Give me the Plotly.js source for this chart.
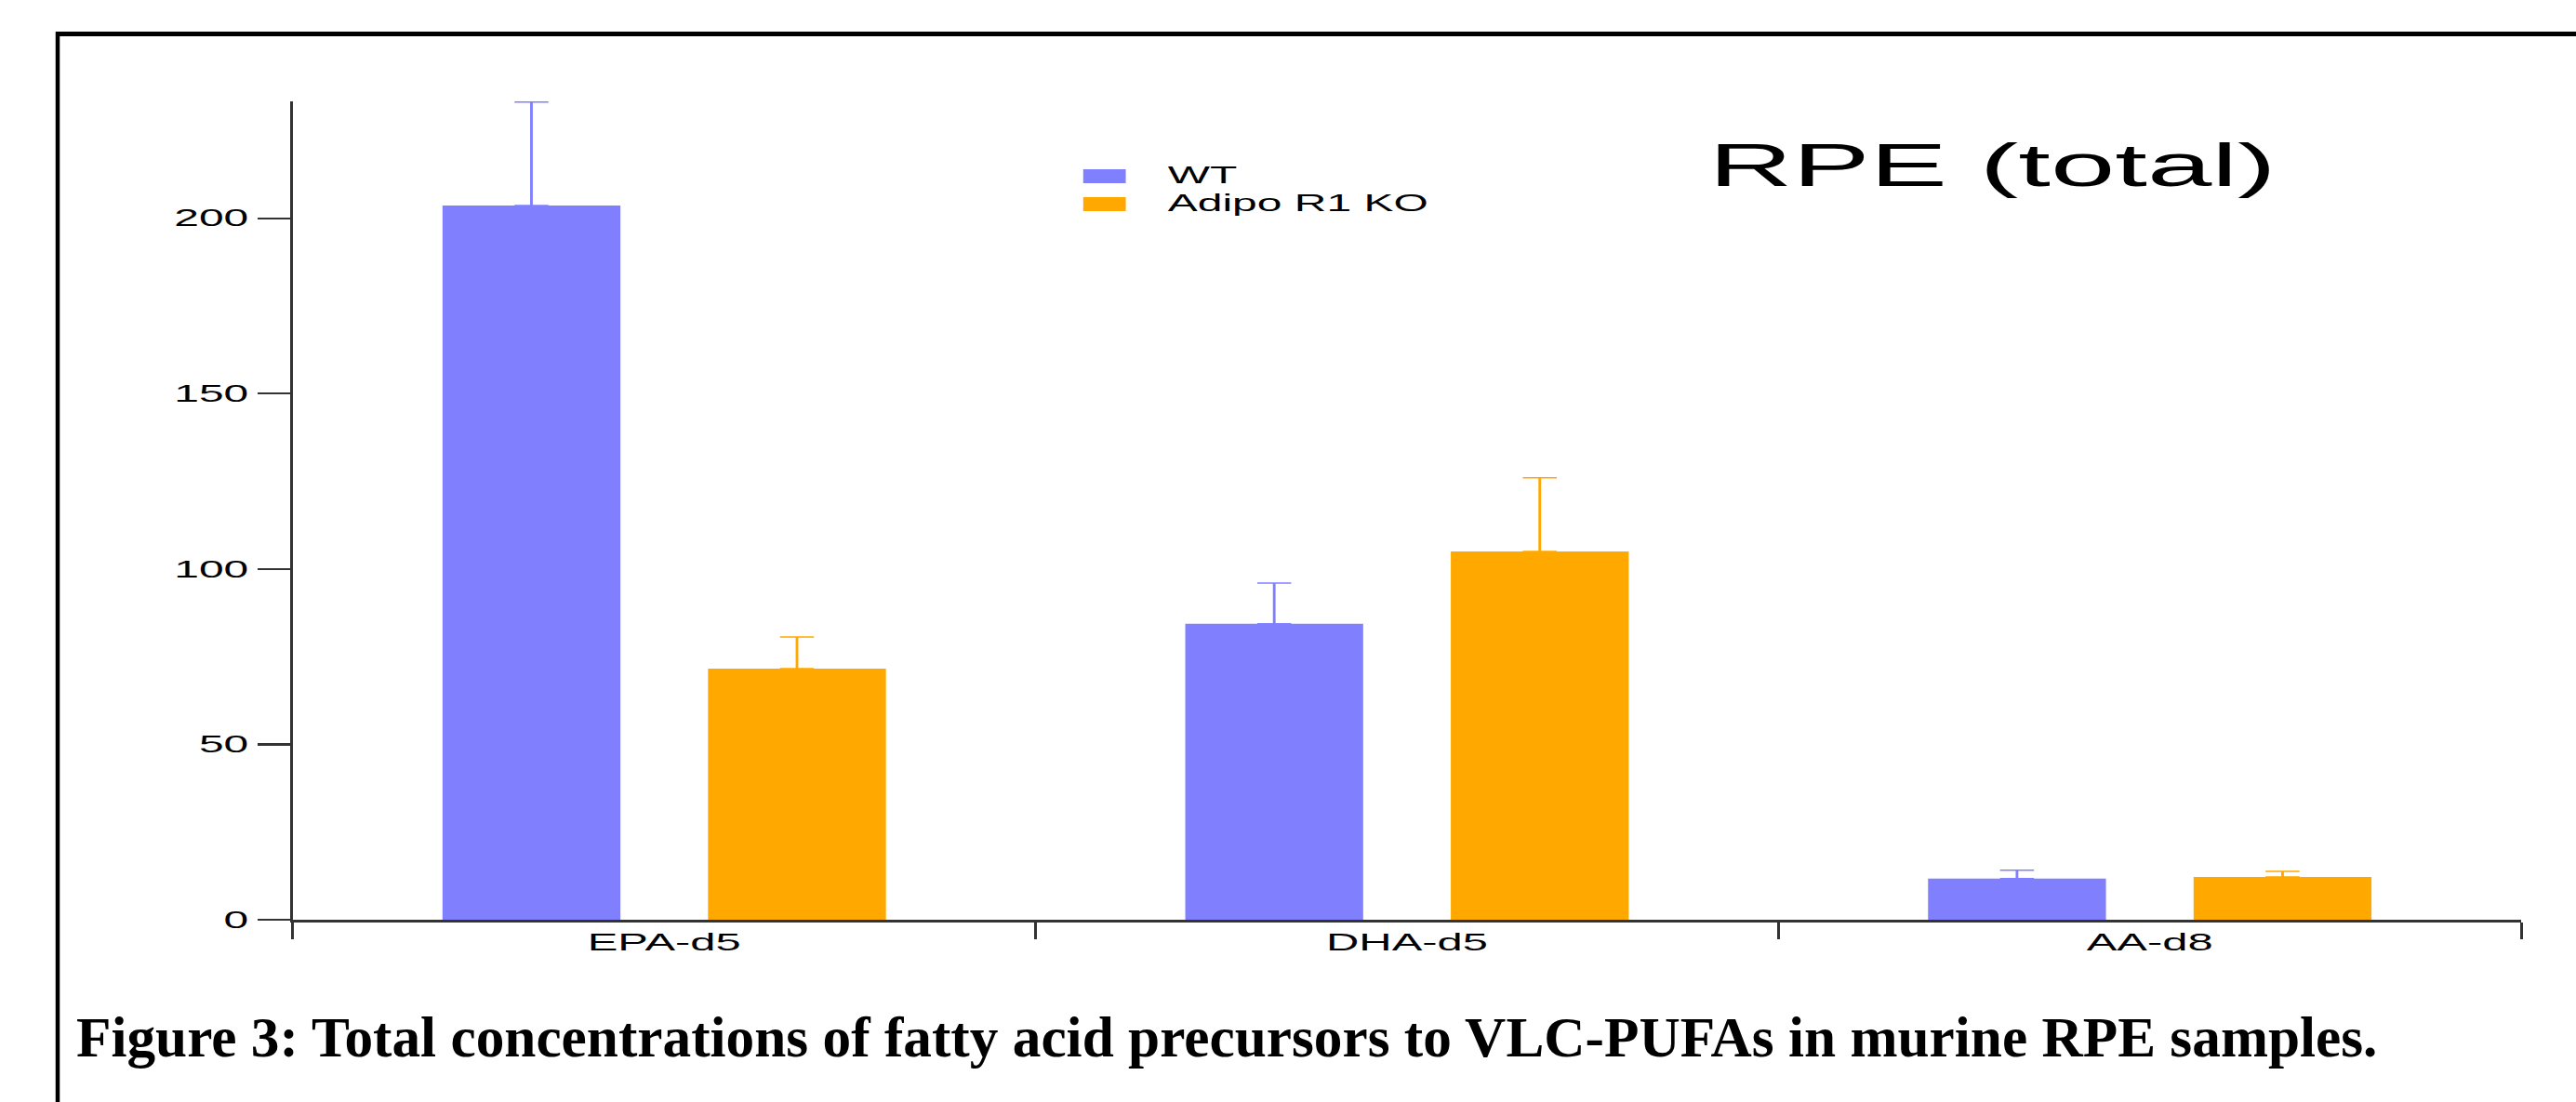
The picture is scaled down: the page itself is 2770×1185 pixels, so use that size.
<!DOCTYPE html>
<html>
<head>
<meta charset="utf-8">
<script src="https://cdn.plot.ly/plotly-3.0.1.min.js"></script>
<style>
  html, body { margin: 0; padding: 0; background: #ffffff; overflow: hidden; }
  #chart { position: absolute; left: 0; top: 0; width: 1443px; height: 1185px;
           transform: scaleX(1.92); transform-origin: 0 0; }
  #frame { position: absolute; left: 0; top: 0; width: 2770px; height: 1185px; pointer-events: none; }
</style>
</head>
<body>
<div id="chart"></div>
<div id="frame"></div>
<script>
// ---- data ----
const categories = ["EPA-d5", "DHA-d5", "AA-d8"];
const seriesNames = ["WT", "Adipo R1 KO"];
const wtValues = [203.6, 84.4, 11.7];
const wtErrors = [29.5, 11.6, 2.4];
const koValues = [71.6, 105.0, 12.2];
const koErrors = [9.0, 21.0, 1.6];
const yTickValues = [0, 50, 100, 150, 200];
const yTickLabels = ["0", "50", "100", "150", "200"];
const chartTitle = "RPE (total)";
const captionText = "Figure 3: Total concentrations of fatty acid precursors to VLC-PUFAs in murine RPE samples.";

// ---- styles ----
const WT_COLOR = "#8080ff";
const KO_COLOR = "#ffa800";
const seriesColors = [WT_COLOR, KO_COLOR];
const AXIS_COLOR = "#333333";
const SANS = "Liberation Sans, Arial, Helvetica, sans-serif";

const traces = [
  {
    type: "bar", name: seriesNames[0], x: categories, y: wtValues,
    marker: { color: WT_COLOR, line: { width: 0 } },
    error_y: { type: "data", symmetric: false, array: wtErrors, arrayminus: [0, 0, 0],
               color: WT_COLOR, thickness: 1.5, width: 9.5 }
  },
  {
    type: "bar", name: seriesNames[1], x: categories, y: koValues,
    marker: { color: KO_COLOR, line: { width: 0 } },
    error_y: { type: "data", symmetric: false, array: koErrors, arrayminus: [0, 0, 0],
               color: KO_COLOR, thickness: 1.5, width: 9.5 }
  }
];

// legend drawn as key swatches + labels (paper coords of the plot area)
const legendSwatchX = [0.3547, 0.3738];
const legendSwatchY = [[0.900, 0.917], [0.8659, 0.883]];
const legendTextX = 0.3918;
const legendTextY = [0.9102, 0.8756];

const legendShapes = seriesNames.map((n, i) => ({
  type: "rect", xref: "paper", yref: "paper",
  x0: legendSwatchX[0], x1: legendSwatchX[1], y0: legendSwatchY[i][0], y1: legendSwatchY[i][1],
  fillcolor: seriesColors[i], line: { width: 0 }
}));
const legendAnnots = seriesNames.map((n, i) => ({
  text: n, xref: "paper", yref: "paper", x: legendTextX, xanchor: "left",
  y: legendTextY[i], yanchor: "middle", showarrow: false, borderpad: 0,
  font: { family: SANS, size: 25, color: "#000000" }
}));

const layout = {
  width: 1443, height: 1185,
  margin: { l: 163.5, r: 31, t: 109, b: 196, pad: 0 },
  paper_bgcolor: "#ffffff", plot_bgcolor: "#ffffff",
  font: { family: SANS, size: 25, color: "#000000" },
  barmode: "group", bargap: 0.285, bargroupgap: 0.33,
  showlegend: false,
  shapes: legendShapes,
  annotations: legendAnnots,
  title: {
    text: chartTitle, xref: "container", yref: "container",
    x: 0.6632, xanchor: "left", y: 0.8504, yanchor: "middle",
    font: { family: SANS, size: 65, color: "#000000" }
  },
  xaxis: {
    type: "category", range: [-0.5, 2.5],
    showline: true, linecolor: AXIS_COLOR, linewidth: 2.5,
    ticks: "outside", tickson: "boundaries", ticklen: 18, tickwidth: 1.6, tickcolor: AXIS_COLOR,
    tickfont: { family: SANS, size: 25.5, color: "#000000" },
    showgrid: false, zeroline: false, fixedrange: true
  },
  yaxis: {
    range: [0, 233.3], tickmode: "array", tickvals: yTickValues, ticktext: yTickLabels,
    showline: true, linecolor: AXIS_COLOR, linewidth: 1.6,
    ticks: "outside", ticklen: 18.2, tickwidth: 2.2, tickcolor: AXIS_COLOR,
    tickfont: { family: SANS, size: 25, color: "#000000" },
    showgrid: false, zeroline: false, fixedrange: true
  }
};

Plotly.newPlot("chart", traces, layout, { staticPlot: true, displayModeBar: false });

// ---- frame + caption overlay (unstretched) ----
const W = 2770, H = 1185;
const overlayLayout = {
  width: W, height: H,
  margin: { l: 0, r: 0, t: 0, b: 0 },
  paper_bgcolor: "rgba(0,0,0,0)", plot_bgcolor: "rgba(0,0,0,0)",
  xaxis: { visible: false, range: [0, W] },
  yaxis: { visible: false, range: [H, 0] },
  showlegend: false,
  shapes: [
    { type: "line", xref: "paper", yref: "paper", x0: 62 / W, x1: 62 / W, y0: 1 - 34 / H, y1: 0,
      line: { color: "#000000", width: 4.5 } },
    { type: "line", xref: "paper", yref: "paper", x0: 60 / W, x1: 1, y0: 1 - 36.5 / H, y1: 1 - 36.5 / H,
      line: { color: "#000000", width: 5 } }
  ],
  annotations: [
    { text: "<b>" + captionText + "</b>", xref: "paper", yref: "paper",
      x: 80 / W, xanchor: "left", y: 1 - 1115 / H, yanchor: "middle", showarrow: false,
      font: { family: "Liberation Serif, Times New Roman, serif", size: 61.3, color: "#000000" } }
  ]
};
Plotly.newPlot("frame", [], overlayLayout, { staticPlot: true, displayModeBar: false });
</script>
</body>
</html>
